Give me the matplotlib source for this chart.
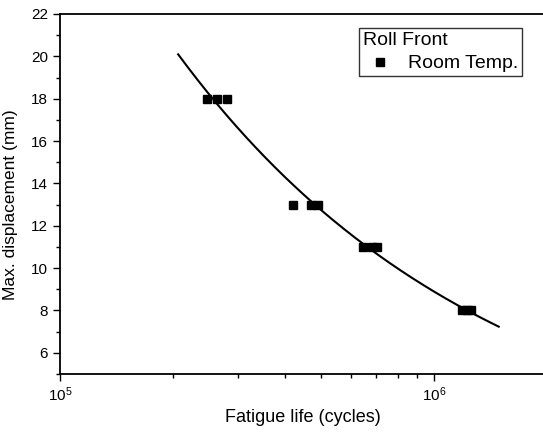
import numpy as np
import matplotlib
matplotlib.use('Agg')
import matplotlib.pyplot as plt
from matplotlib.ticker import LogLocator, MultipleLocator, NullFormatter

plt.rcParams['font.family'] = ['Liberation Sans', 'DejaVu Sans']
plt.rcParams['mathtext.default'] = 'regular'

# fatigue life (cycles) vs max displacement (mm), roll front, room temperature
life = [2.47e5, 2.63e5, 2.80e5,
        4.20e5, 4.69e5, 4.90e5,
        6.46e5, 6.83e5, 7.04e5,
        1.19e6, 1.225e6, 1.26e6]
disp = [18, 18, 18,
        13, 13, 13,
        11, 11, 11,
        8, 8, 8]
fit_start = 2.07e5
fit_end = 1.49e6

fig = plt.figure(figsize=(5.43, 4.33), dpi=100)
ax = fig.add_axes([0.1105, 0.1363, 0.896, 0.8314])

# power-law fit: disp = a * life**b
b, loga = np.polyfit(np.log10(life), np.log10(disp), 1)
xf = np.logspace(np.log10(fit_start), np.log10(fit_end), 200)
ax.plot(xf, 10 ** loga * xf ** b, color='black', lw=1.5)

ax.plot(life, disp, 's', color='black', ms=5.5, label='Room Temp.')

ax.set_xscale('log')
ax.set_xlim(1e5, 2e6)
ax.set_ylim(5, 22)
ax.yaxis.set_major_locator(MultipleLocator(2))
ax.yaxis.set_minor_locator(MultipleLocator(1))
ax.xaxis.set_minor_locator(LogLocator(base=10, subs=np.arange(2, 10)))
ax.xaxis.set_minor_formatter(NullFormatter())

ax.tick_params(which='major', direction='out', length=5, width=1, labelsize=11)
ax.tick_params(which='minor', direction='out', length=3, width=1)
ax.tick_params(axis='x', which='major', pad=3)
for s in ax.spines.values():
    s.set_linewidth(1.3)
ax.spines['right'].set_visible(False)

ax.set_xlabel('Fatigue life (cycles)', fontsize=13, labelpad=4)
ax.set_ylabel('Max. displacement (mm)', fontsize=12.5)
ax.yaxis.set_label_coords(-0.086, 0.47)

leg = ax.legend(title='Roll Front', loc='upper right', bbox_to_anchor=(0.9497, 0.961),
                borderaxespad=0, fontsize=14, title_fontsize=14, frameon=True,
                fancybox=False, edgecolor='black', handletextpad=0.6,
                borderpad=0.2, labelspacing=0.3, handlelength=1.7, markerscale=1.1)
leg._legend_box.align = 'left'
leg.get_frame().set_linewidth(1.0)

fig.savefig('out.png', dpi=100)
